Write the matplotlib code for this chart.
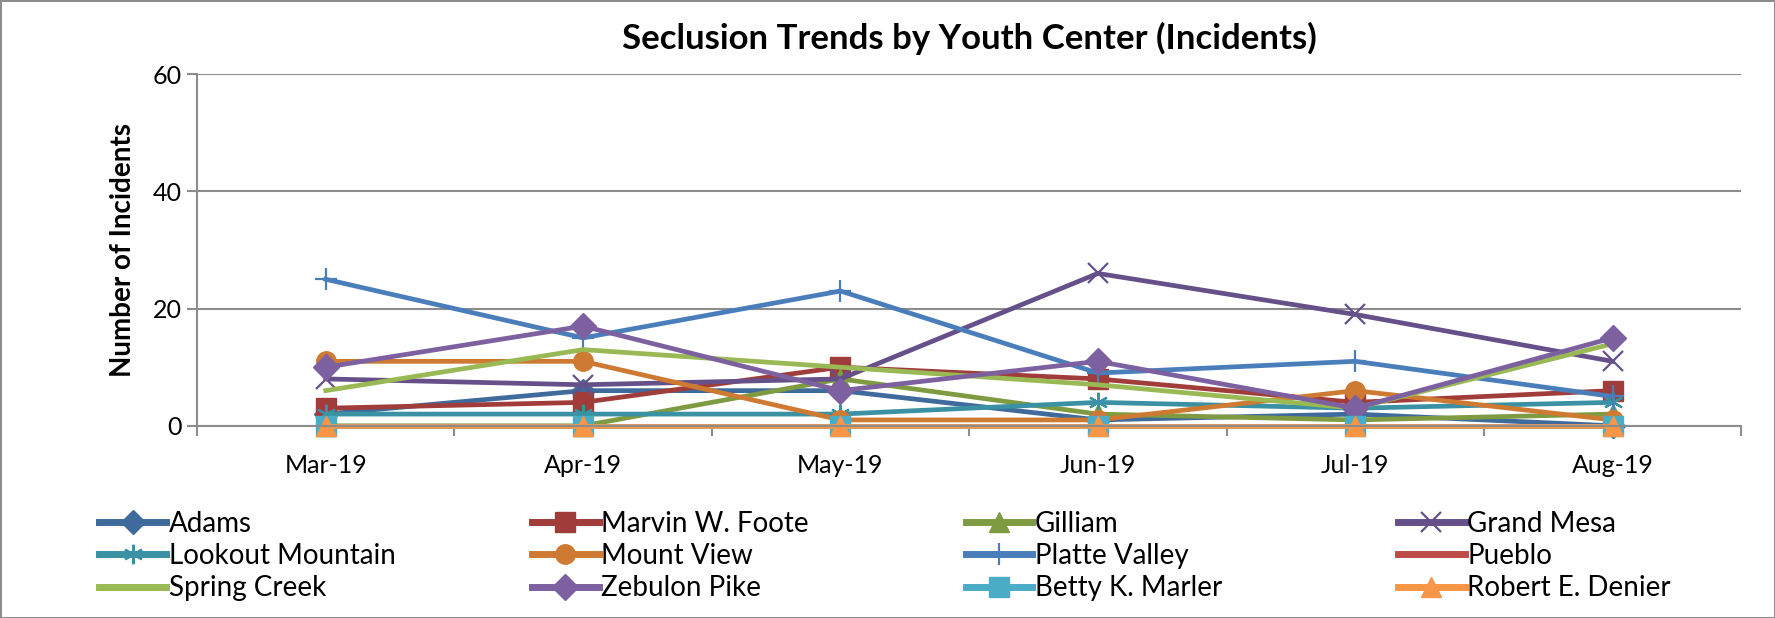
import numpy as np
import matplotlib
matplotlib.use('Agg')
import matplotlib.pyplot as plt

plt.rcParams['font.family'] = ['Lato', 'DejaVu Sans']

# data
months = ['Mar-19', 'Apr-19', 'May-19', 'Jun-19', 'Jul-19', 'Aug-19']
centers = ['Adams', 'Marvin W. Foote', 'Gilliam', 'Grand Mesa',
           'Lookout Mountain', 'Mount View', 'Platte Valley', 'Pueblo',
           'Spring Creek', 'Zebulon Pike', 'Betty K. Marler', 'Robert E. Denier']
adams = [2, 6, 6, 1, 2, 0]
marvin = [3, 4, 10, 8, 4, 6]
gilliam = [0, 0, 8, 2, 1, 2]
grand_mesa = [8, 7, 8, 26, 19, 11]
lookout = [2, 2, 2, 4, 3, 4]
mount_view = [11, 11, 1, 1, 6, 1]
platte = [25, 15, 23, 9, 11, 5]
pueblo = [0, 0, 0, 0, 0, 0]
spring_creek = [6, 13, 10, 7, 3, 14]
zebulon = [10, 17, 6, 11, 3, 15]
betty = [0, 0, 0, 0, 0, 0]
robert = [0, 0, 0, 0, 0, 0]
series = [adams, marvin, gilliam, grand_mesa, lookout, mount_view,
          platte, pueblo, spring_creek, zebulon, betty, robert]

colors = ['#3F6A9C', '#A03D3A', '#7F9B41', '#66508A', '#3A91A3', '#CE7A33',
          '#4A7EBB', '#BE4B48', '#98B954', '#7D60A0', '#4BACC6', '#F79646']
markers = ['D', 's', '^', 'x', (6, 2, 0), 'o', '+', None, None, 'D', 's', '^']
sizes = [12, 14, 15, 14, 14, 14, 16, 0, 0, 13, 14, 15]

fig = plt.figure(figsize=(17.75, 6.18), dpi=100)
fig.patch.set_edgecolor('#8C8C8C')
fig.patch.set_linewidth(2)
ax = fig.add_axes([0.111, 0.311, 0.870, 0.569])

x = np.arange(len(months))
for i in range(len(series)):
    m = markers[i]
    line_m = m in ('x', '+') or isinstance(m, tuple)
    ax.plot(x, series[i], color=colors[i], lw=3.4, marker=m, ms=sizes[i],
            mec=colors[i], mew=1.6 if line_m else 1, label=centers[i],
            solid_joinstyle='miter', clip_on=False)

ax.set_xlim(-0.5, 5.5)
ax.set_ylim(0, 60)
ax.set_yticks([0, 20, 40, 60])
ax.set_xticks(x)
ax.set_xticklabels(months)
ax.set_xticks(np.arange(-0.5, 6, 1), minor=True)
ax.tick_params(axis='x', which='major', length=0, labelsize=18, pad=20)
ax.tick_params(axis='x', which='minor', length=7, color='#8C8C8C', width=1.5)
ax.tick_params(axis='y', length=7, color='#8C8C8C', width=1.5, labelsize=18, pad=4)
ax.yaxis.grid(True, color='#8C8C8C', lw=1.5)
ax.set_axisbelow(True)
for s in ['top', 'right']:
    ax.spines[s].set_visible(False)
for s in ['left', 'bottom']:
    ax.spines[s].set_color('#8C8C8C')
    ax.spines[s].set_linewidth(1.5)
ax.set_ylabel('Number of Incidents', fontsize=20, fontweight='bold', labelpad=12)
ax.set_title('Seclusion Trends by Youth Center (Incidents)', fontsize=25,
             fontweight='bold', pad=18)

# legend: four columns, row-major order
h, l = ax.get_legend_handles_labels()
col_x = [0.056, 0.2997, 0.544, 0.7876]
for c in range(4):
    idx = [c, c + 4, c + 8]
    leg = fig.legend([h[k] for k in idx], [l[k] for k in idx], loc='center left',
                     bbox_to_anchor=(col_x[c], 0.1), frameon=False, fontsize=20,
                     handlelength=2.4, handletextpad=0.1, labelspacing=0.22,
                     borderaxespad=0, borderpad=0)
    for ln in leg.get_lines():
        ln.set_linewidth(5)

fig.savefig('out.png', dpi=100)
